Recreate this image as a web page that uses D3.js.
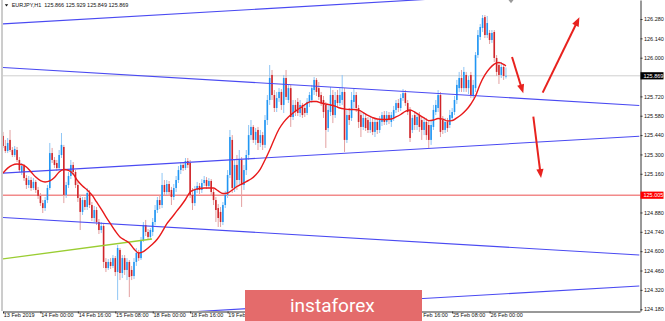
<!DOCTYPE html>
<html><head><meta charset="utf-8">
<script src="https://cdn.jsdelivr.net/npm/d3@7"></script>
<style>html,body{margin:0;padding:0;background:#fff;overflow:hidden}</style>
</head><body><svg id="c" width="665" height="321"></svg>
<script>
const symbol = "EURJPY,H1";
const lastQuote = [125.866, 125.929, 125.849, 125.869];
const levelPrice = 125.005;

const opens = [125.434,125.361,125.325,125.405,125.332,125.296,125.332,125.260,125.173,125.216,125.129,125.079,125.115,125.057,125.101,125.043,125.000,124.948,124.912,124.970,125.057,125.310,125.260,125.238,125.202,125.296,125.354,125.007,125.079,125.144,125.224,125.173,125.079,124.985,124.884,124.970,124.920,125.021,124.934,124.840,124.898,124.811,124.753,124.782,124.522,124.478,124.522,124.493,124.550,124.449,124.609,124.442,124.550,124.464,124.522,124.464,124.420,124.522,124.587,124.550,124.681,124.789,124.739,124.703,124.739,124.811,124.898,124.970,124.934,125.079,125.028,125.086,125.043,124.992,125.057,125.115,125.187,125.224,125.202,125.252,125.238,125.007,124.948,125.043,125.072,125.043,125.093,125.115,125.072,125.108,125.028,124.970,124.912,124.884,124.811,124.934,125.007,125.151,125.405,125.057,125.224,125.115,125.260,125.079,125.187,125.296,125.440,125.499,125.405,125.477,125.383,125.440,125.369,125.549,125.694,125.875,125.730,125.636,125.708,125.752,125.658,125.853,125.694,125.780,125.571,125.658,125.680,125.600,125.658,125.636,125.600,125.680,125.694,125.766,125.839,125.780,125.730,125.694,125.658,125.491,125.607,125.730,125.585,125.730,125.672,125.694,125.752,125.405,125.585,125.564,125.680,125.730,125.636,125.585,125.499,125.564,125.549,125.477,125.535,125.463,125.535,125.477,125.535,125.585,125.535,125.585,125.535,125.564,125.622,125.672,125.636,125.708,125.744,125.672,125.622,125.477,125.585,125.513,125.585,125.549,125.477,125.535,125.513,125.405,125.499,125.607,125.636,125.730,125.549,125.477,125.535,125.513,125.564,125.607,125.694,125.780,125.853,125.780,125.875,125.780,125.875,125.730,125.780,126.019,126.150,126.215,126.294,126.164,126.179,126.128,126.186,125.998,125.947,125.875,125.933,125.866];
const highs = [125.463,125.405,125.419,125.477,125.354,125.361,125.354,125.281,125.238,125.231,125.151,125.144,125.136,125.129,125.115,125.065,125.021,124.970,124.992,125.079,125.383,125.347,125.281,125.260,125.332,125.455,125.369,125.101,125.173,125.260,125.245,125.187,125.101,125.007,124.992,124.992,125.057,125.043,124.956,124.927,124.920,124.833,124.811,124.796,124.550,124.543,124.550,124.572,124.565,124.645,124.623,124.572,124.572,124.550,124.536,124.493,124.550,124.623,124.609,124.703,124.811,124.826,124.760,124.767,124.840,124.934,124.992,125.007,125.166,125.115,125.115,125.108,125.065,125.086,125.144,125.216,125.245,125.245,125.274,125.274,125.260,125.057,125.072,125.101,125.093,125.122,125.144,125.136,125.129,125.122,125.050,124.992,124.941,124.920,124.956,125.036,125.187,125.477,125.440,125.260,125.296,125.332,125.281,125.224,125.332,125.513,125.549,125.513,125.491,125.499,125.477,125.463,125.585,125.730,125.947,125.911,125.766,125.752,125.780,125.773,125.875,125.911,125.803,125.803,125.694,125.694,125.708,125.694,125.672,125.665,125.708,125.752,125.803,125.860,125.853,125.824,125.752,125.723,125.680,125.658,125.788,125.766,125.752,125.766,125.780,125.875,125.780,125.622,125.636,125.752,125.780,125.752,125.658,125.607,125.600,125.593,125.571,125.571,125.564,125.564,125.556,125.578,125.607,125.614,125.614,125.607,125.607,125.651,125.694,125.701,125.737,125.773,125.766,125.694,125.643,125.585,125.614,125.600,125.607,125.578,125.564,125.564,125.549,125.549,125.658,125.694,125.766,125.752,125.578,125.564,125.564,125.622,125.636,125.723,125.839,125.897,125.911,125.933,125.897,125.868,125.897,125.839,126.041,126.200,126.244,126.309,126.309,126.302,126.200,126.200,126.200,126.019,125.969,125.969,125.954,125.929];
const lows = [125.347,125.310,125.310,125.318,125.281,125.281,125.245,125.173,125.151,125.108,125.050,125.057,125.036,125.043,125.021,124.978,124.927,124.876,124.891,124.948,125.043,125.238,125.202,125.180,125.187,125.274,124.948,124.985,125.057,125.122,125.151,125.057,124.956,124.753,124.862,124.898,124.898,124.912,124.818,124.811,124.789,124.724,124.731,124.478,124.449,124.464,124.471,124.478,124.420,124.247,124.391,124.406,124.428,124.391,124.268,124.391,124.398,124.493,124.529,124.536,124.666,124.710,124.681,124.688,124.710,124.789,124.876,124.905,124.912,125.007,125.007,125.000,124.934,124.970,125.028,125.093,125.158,125.180,125.187,125.202,124.985,124.898,124.927,125.021,125.014,125.021,125.072,125.050,125.057,125.000,124.934,124.811,124.775,124.775,124.789,124.912,124.985,125.129,125.021,125.028,125.043,125.079,124.920,125.043,125.151,125.260,125.405,125.383,125.369,125.332,125.354,125.332,125.347,125.513,125.658,125.694,125.607,125.607,125.680,125.622,125.600,125.694,125.672,125.499,125.549,125.578,125.578,125.571,125.564,125.571,125.585,125.643,125.672,125.730,125.723,125.694,125.651,125.564,125.347,125.463,125.578,125.527,125.564,125.636,125.651,125.658,125.318,125.383,125.513,125.542,125.636,125.607,125.491,125.426,125.477,125.470,125.455,125.455,125.440,125.426,125.448,125.455,125.506,125.513,125.513,125.520,125.499,125.542,125.600,125.607,125.614,125.687,125.651,125.585,125.390,125.455,125.477,125.477,125.463,125.405,125.440,125.405,125.347,125.369,125.477,125.585,125.607,125.426,125.448,125.455,125.463,125.491,125.542,125.585,125.665,125.752,125.752,125.752,125.752,125.737,125.708,125.708,125.752,125.998,126.128,126.186,126.142,126.142,126.099,126.107,125.969,125.868,125.810,125.853,125.839,125.849];
const closes = [125.361,125.325,125.383,125.332,125.296,125.340,125.260,125.187,125.216,125.129,125.079,125.115,125.057,125.101,125.043,125.000,124.948,124.912,124.970,125.057,125.310,125.260,125.224,125.202,125.296,125.369,125.007,125.079,125.144,125.224,125.173,125.079,124.985,124.884,124.970,124.920,125.021,124.934,124.840,124.898,124.811,124.753,124.782,124.522,124.478,124.522,124.493,124.550,124.449,124.623,124.442,124.550,124.464,124.522,124.413,124.420,124.522,124.587,124.550,124.681,124.789,124.739,124.703,124.753,124.811,124.898,124.970,124.934,125.079,125.028,125.086,125.028,124.992,125.057,125.115,125.187,125.224,125.202,125.252,125.224,125.007,124.948,125.043,125.072,125.043,125.093,125.115,125.072,125.108,125.028,124.970,124.898,124.840,124.811,124.934,125.007,125.151,125.426,125.057,125.224,125.115,125.260,125.079,125.187,125.296,125.440,125.499,125.405,125.463,125.383,125.440,125.369,125.549,125.694,125.853,125.730,125.636,125.708,125.752,125.658,125.853,125.716,125.780,125.571,125.658,125.607,125.600,125.658,125.585,125.600,125.680,125.730,125.780,125.839,125.752,125.716,125.672,125.607,125.477,125.622,125.730,125.585,125.694,125.672,125.730,125.752,125.405,125.585,125.549,125.694,125.730,125.636,125.535,125.499,125.564,125.491,125.477,125.535,125.463,125.535,125.477,125.549,125.585,125.535,125.585,125.549,125.585,125.622,125.672,125.636,125.708,125.744,125.672,125.607,125.419,125.564,125.513,125.571,125.499,125.477,125.535,125.440,125.405,125.513,125.622,125.658,125.730,125.463,125.477,125.535,125.491,125.585,125.607,125.694,125.803,125.853,125.780,125.897,125.780,125.839,125.730,125.803,126.019,126.164,126.222,126.287,126.164,126.251,126.128,126.179,125.998,125.897,125.875,125.933,125.868,125.869];

const maBars = [0,2,4,6,8,10,12,14,16,18,20,22,24,26,28,30,32,34,36,38,40,42,44,46,48,50,52,54,56,58,60,62,64,66,68,70,72,74,76,78,80,82,84,86,88,90,92,94,96,98,100,102,104,106,108,110,112,114,116,118,120,122,124,126,128,130,132,134,136,138,140,142,144,146,148,150,152,154,156,158,160,162,164,166,168,170,172,174,176,178,180,182,184,186,188,190,192,194,196,198,200,202,204,206,208,210,212,214,215];
const maValues = [125.165,125.201,125.223,125.231,125.227,125.209,125.173,125.136,125.111,125.101,125.108,125.133,125.173,125.191,125.184,125.158,125.108,125.072,125.043,125.007,124.956,124.905,124.848,124.797,124.746,124.703,124.681,124.659,124.616,124.587,124.597,124.623,124.652,124.688,124.739,124.797,124.840,124.884,124.927,124.974,125.028,125.046,125.053,125.057,125.057,125.057,125.036,125.017,125.021,125.043,125.068,125.086,125.104,125.122,125.151,125.194,125.260,125.332,125.412,125.484,125.534,125.571,125.600,125.625,125.647,125.672,125.683,125.683,125.672,125.665,125.658,125.650,125.636,125.629,125.625,125.625,125.621,125.603,125.582,125.567,125.556,125.553,125.553,125.556,125.571,125.589,125.611,125.621,125.607,125.585,125.564,125.545,125.549,125.560,125.556,125.542,125.545,125.564,125.589,125.621,125.665,125.723,125.810,125.875,125.922,125.954,125.965,125.951,125.940];

const priceTicks = [126.280,126.140,126.000,125.720,125.580,125.440,125.300,125.160,124.880,124.740,124.600,124.460,124.320,124.180];
const dateLabels = ["13 Feb 2019","14 Feb 00:00","14 Feb 16:00","15 Feb 08:00","18 Feb 00:00","18 Feb 16:00","19 Feb 08:00","20 Feb 00:00","20 Feb 16:00","21 Feb 08:00","22 Feb 00:00","22 Feb 16:00","25 Feb 08:00","26 Feb 00:00"];
const dateLabelBars = [0,16,32,48,64,80,96,112,128,144,160,176,192,208];

// trend lines: [bar, price] endpoints
const channelStart = [[0,126.245],[0,125.929],[0,125.165],[0,124.844],[0,124.082]];
const channelEnd   = [[272,126.511],[272,125.654],[272,125.432],[272,124.572],[272,124.348]];
const greenStart = [0,124.544];
const greenEnd = [63.7,124.688];
const arrowFrom = [[217.6,126.005],[230.7,125.747],[226.7,125.573]];
const arrowTo   = [[222.4,125.742],[246.4,126.292],[230.0,125.129]];

const W = 665, H = 321, L = 3, R = 640, B = 311;
const logoBox = {x: 245, y: 290, w: 177, h: 31};
const svg = d3.select('#c');
const x = d3.scaleLinear().domain([0, 272.3]).range([L, R]);
const y = d3.scaleLinear().domain([124.1671, 126.4175]).range([B, 0]);
const font = "'Liberation Sans', Arial, sans-serif";

svg.append('rect').attr('width', W).attr('height', H).attr('fill', '#fff');
svg.append('defs').append('clipPath').attr('id', 'clip')
  .append('rect').attr('x', L).attr('y', 0).attr('width', R - L).attr('height', B);

// left border
svg.append('line').attr('x1', 2).attr('x2', 2).attr('y1', 0).attr('y2', B).attr('stroke', '#9a9a9a').attr('stroke-width', 1);

const plot = svg.append('g').attr('clip-path', 'url(#clip)');

// current price line
plot.append('line').attr('x1', L).attr('x2', R)
  .attr('y1', y(lastQuote[3])).attr('y2', y(lastQuote[3]))
  .attr('stroke', '#cfcfcf').attr('stroke-width', 1);
// level line
plot.append('line').attr('x1', L).attr('x2', R)
  .attr('y1', y(levelPrice)).attr('y2', y(levelPrice))
  .attr('stroke', '#f28a8a').attr('stroke-width', 1.6);

// candles
const idx = d3.range(opens.length);
const up = i => closes[i] >= opens[i];
plot.append('g').selectAll('line').data(idx).join('line')
  .attr('x1', i => x(i)).attr('x2', i => x(i))
  .attr('y1', i => y(highs[i])).attr('y2', i => y(lows[i]))
  .attr('stroke', i => up(i) ? '#8fc6f5' : '#e3a0a0').attr('stroke-width', 1);
plot.append('g').selectAll('rect').data(idx).join('rect')
  .attr('x', i => x(i) - 0.8).attr('width', 1.6)
  .attr('y', i => y(Math.max(opens[i], closes[i])))
  .attr('height', i => Math.max(0.8, Math.abs(y(opens[i]) - y(closes[i]))))
  .attr('fill', i => up(i) ? '#2196f3' : '#d0252a');

// channel lines
plot.append('g').selectAll('line').data(channelStart).join('line')
  .attr('x1', (d) => x(d[0])).attr('y1', d => y(d[1]))
  .attr('x2', (d, i) => x(channelEnd[i][0])).attr('y2', (d, i) => y(channelEnd[i][1]))
  .attr('stroke', '#4a4af2').attr('stroke-width', 1.1);
// green line
plot.append('line').attr('x1', x(greenStart[0])).attr('y1', y(greenStart[1]))
  .attr('x2', x(greenEnd[0])).attr('y2', y(greenEnd[1]))
  .attr('stroke', '#9acd32').attr('stroke-width', 1.3);

// MA
plot.append('path').datum(maBars)
  .attr('d', d3.line().x(k => x(k)).y((k, i) => y(maValues[i])).curve(d3.curveMonotoneX))
  .attr('fill', 'none').attr('stroke', '#e8191a').attr('stroke-width', 1.4);

// arrows
const ag = plot.append('g');
arrowFrom.forEach((f, i) => {
  const t = arrowTo[i];
  const x1 = x(f[0]), y1 = y(f[1]), x2 = x(t[0]), y2 = y(t[1]);
  const dx = x2 - x1, dy = y2 - y1, len = Math.hypot(dx, dy);
  const ux = dx / len, uy = dy / len, hl = 9, hw = 3.6;
  const bx = x2 - ux * hl, by = y2 - uy * hl;
  ag.append('line').attr('x1', x1).attr('y1', y1).attr('x2', bx + ux).attr('y2', by + uy)
    .attr('stroke', '#e8221e').attr('stroke-width', 2);
  ag.append('path').attr('d', `M${x2},${y2}L${bx - uy * hw},${by + ux * hw}L${bx + uy * hw},${by - ux * hw}Z`)
    .attr('fill', '#e8221e');
});

// right axis
const ya = d3.axisRight(y).tickValues(priceTicks).tickSize(2).tickPadding(1.5)
  .tickFormat(d3.format('.3f')).tickSizeOuter(0);
const gy = svg.append('g').attr('transform', `translate(${R + 0.5},0)`).call(ya);
gy.select('.domain').attr('stroke', '#333');
gy.selectAll('.tick line').attr('stroke', '#333');
gy.selectAll('text').attr('font-family', font).attr('font-size', 5.5).attr('fill', '#111');

// bottom axis (labels fully hidden behind the logo badge are not drawn)
const labelW = 33;
const shownBars = dateLabelBars.filter(k => !(x(k) >= logoBox.x && x(k) + labelW <= logoBox.x + logoBox.w));
const xa = d3.axisBottom(x).tickValues(shownBars)
  .tickFormat(k => dateLabels[dateLabelBars.indexOf(k)])
  .tickSize(2).tickPadding(0).tickSizeOuter(0);
const gx = svg.append('g').attr('transform', `translate(0,${B + 0.5})`).call(xa);
gx.select('.domain').attr('stroke', '#333');
gx.selectAll('.tick line').attr('stroke', '#333');
gx.selectAll('text').attr('font-family', font).attr('font-size', 5.5).attr('fill', '#111')
  .attr('text-anchor', 'start').attr('x', 0.3);

// price labels
function priceTag(p, bg) {
  const yy = y(p);
  svg.append('rect').attr('x', R + 0.5).attr('y', yy - 3.6).attr('width', 23).attr('height', 7.2).attr('fill', bg);
  svg.append('text').attr('x', R + 3.5).attr('y', yy).attr('dy', '0.34em')
    .attr('font-family', font).attr('font-size', 5.5).attr('fill', '#fff').text(d3.format('.3f')(p));
}
priceTag(lastQuote[3], '#000');
priceTag(levelPrice, '#ff0000');

// header
svg.append('path').attr('d', 'M4.8,4.2L8.2,4.2L6.5,6.4Z').attr('fill', '#111');
svg.append('text').attr('x', 11.7).attr('y', 7).attr('font-family', font).attr('font-size', 5.5)
  .attr('fill', '#111').style('white-space', 'pre')
  .text(symbol + '  ' + lastQuote.map(d3.format('.3f')).join(' '));
// shift marker
svg.append('path').attr('d', 'M508.5,0L513.5,0L511,3.2Z').attr('fill', '#9a9a9a');

// logo
svg.append('rect').attr('x', logoBox.x).attr('y', logoBox.y).attr('width', logoBox.w).attr('height', logoBox.h).attr('fill', '#e46b6b');
svg.append('text').attr('x', 290).attr('y', 311.6).attr('font-family', 'Roboto, sans-serif')
  .attr('font-size', 19).attr('fill', '#fff').text('instaforex');
</script></body></html>
